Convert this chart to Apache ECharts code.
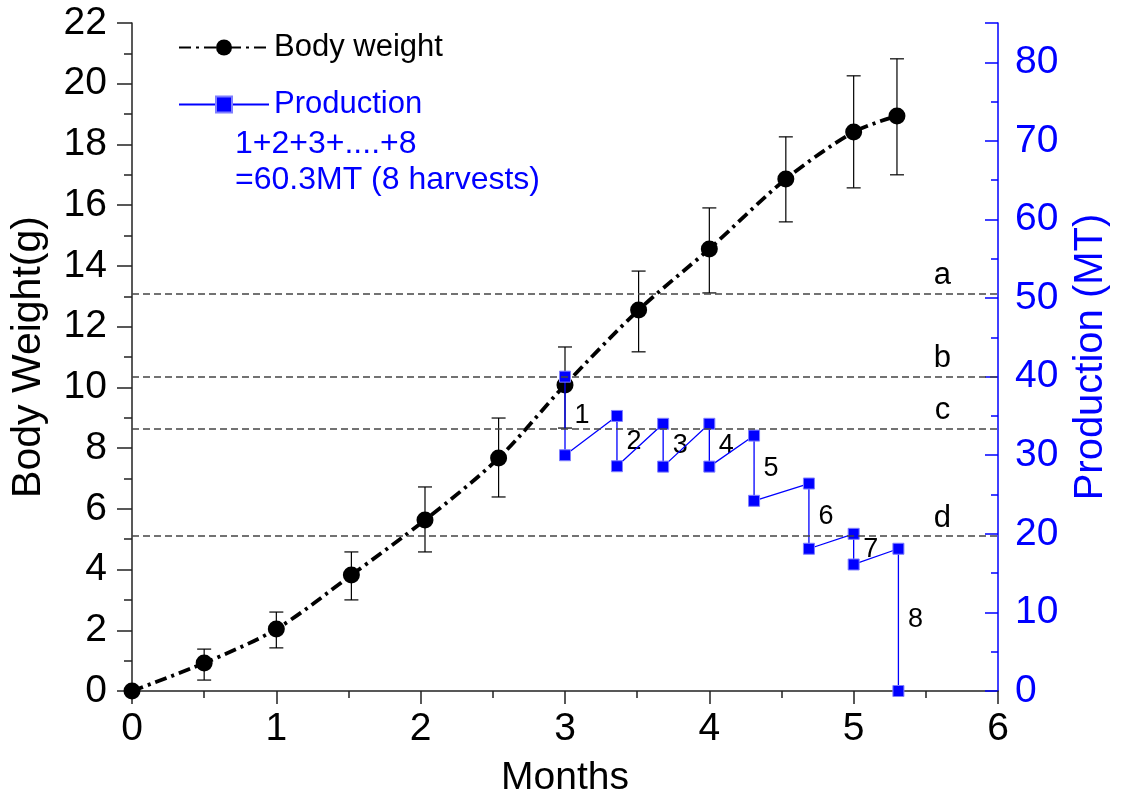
<!DOCTYPE html>
<html><head><meta charset="utf-8">
<script src="https://cdn.jsdelivr.net/npm/echarts@6/dist/echarts.min.js"></script>
<style>html,body{margin:0;padding:0;background:#fff}#c{width:1124px;height:800px}</style>
</head><body><div id="c"></div>
<script>
// ---- data ----
const months   = [0, 0.5, 1.0, 1.52, 2.03, 2.54, 3.0, 3.51, 4.0, 4.53, 5.0, 5.3];
const weight   = [0, 0.92, 2.04, 3.82, 5.63, 7.67, 10.08, 12.55, 14.56, 16.86, 18.41, 18.94];
const errLow   = [0, 0.36, 1.42, 3.0, 4.58, 6.39, 8.66, 11.17, 13.11, 15.45, 16.57, 17.0];
const errHigh  = [0, 1.38, 2.6, 4.58, 6.72, 8.99, 11.33, 13.83, 15.91, 18.25, 20.26, 20.82];
const harvestX      = [3.0, 3.36, 3.68, 4.0, 4.31, 4.69, 5.0, 5.31];
const harvestBefore = [40, 35, 34, 34, 32.5, 26.4, 20.0, 18.1];
const harvestAfter  = [30, 28.6, 28.55, 28.55, 24.2, 18.1, 16.1, 0];
const harvestNames  = ['1','2','3','4','5','6','7','8'];
const dashValues  = [50.6, 40.0, 33.4, 19.7];
const dashLetters = ['a','b','c','d'];
const xTicks = [0,1,2,3,4,5,6];

const FONT = '"Liberation Sans", Arial, sans-serif';
const BLUE = '#0000ff';
const LETTER_X = 5.615;

const prodPts = [];
harvestX.forEach((x,i)=>{ prodPts.push([x, harvestBefore[i]]); prodPts.push([x, harvestAfter[i]]); });

const chart = echarts.init(document.getElementById('c'));
chart.setOption({
  animation:false,
  backgroundColor:'#fff',
  textStyle:{fontFamily:FONT},
  grid:{left:132, right:126, top:23, bottom:109, containLabel:false, outerBoundsMode:'none'},
  title:{
    text:'1+2+3+....+8\n=60.3MT (8 harvests)', left:235, top:126, padding:0,
    textStyle:{color:BLUE, fontSize:32, fontWeight:'normal', lineHeight:36, fontFamily:FONT}
  },
  legend:{
    orient:'vertical', left:178, top:32, padding:0, itemWidth:90, itemHeight:20, itemGap:26,
    selectedMode:false,
    textStyle:{fontSize:31, fontFamily:FONT},
    data:[{name:'Body weight', textStyle:{color:'#000'}}, {name:'Production', textStyle:{color:BLUE}}]
  },
  xAxis:{
    type:'value', min:xTicks[0], max:xTicks[xTicks.length-1], interval:1,
    name:'Months', nameLocation:'middle', nameGap:68,
    nameTextStyle:{fontSize:39, color:'#000', fontFamily:FONT},
    axisLine:{onZero:false, lineStyle:{color:'#222', width:1.5}},
    axisTick:{length:13, lineStyle:{color:'#222', width:1.5}},
    minorTick:{show:true, splitNumber:2, length:7, lineStyle:{color:'#222', width:1.5}},
    axisLabel:{fontSize:39, color:'#000', margin:19, fontFamily:FONT},
    splitLine:{show:false}
  },
  yAxis:[{
    type:'value', position:'left', min:0, max:22, interval:2,
    name:'Body Weight(g)', nameLocation:'middle', nameGap:83, nameRotate:90,
    nameTextStyle:{fontSize:41, color:'#000', fontFamily:FONT},
    axisLine:{show:true, lineStyle:{color:'#222', width:1.5}},
    axisTick:{show:true, length:15, lineStyle:{color:'#222', width:1.5}},
    minorTick:{show:true, splitNumber:2, length:8, lineStyle:{color:'#222', width:1.5}},
    axisLabel:{fontSize:39, color:'#000', margin:25, fontFamily:FONT},
    splitLine:{show:false}
  },{
    type:'value', position:'right', min:0, max:85, interval:10,
    name:'Production (MT)', nameLocation:'middle', nameGap:73, nameRotate:90,
    nameTextStyle:{fontSize:40, color:BLUE, fontFamily:FONT},
    axisLine:{show:true, lineStyle:{color:BLUE, width:1.5}},
    axisTick:{show:true, inside:true, length:13, lineStyle:{color:BLUE, width:1.5}},
    minorTick:{show:true, splitNumber:2, length:7, lineStyle:{color:BLUE, width:1.5}},
    axisLabel:{fontSize:39, color:BLUE, margin:17, showMaxLabel:false, fontFamily:FONT},
    splitLine:{show:false}
  }],
  series:[{
    type:'custom', xAxisIndex:0, yAxisIndex:0, z:1, silent:true,
    data: months.map((m,i)=>[m, errLow[i], errHigh[i]]).filter(d=>d[2]>d[1]),
    renderItem(params, api){
      const x=api.value(0), lo=api.value(1), hi=api.value(2);
      const p1=api.coord([x,lo]), p2=api.coord([x,hi]); const w=7;
      const st={stroke:'#000', lineWidth:1.2};
      return {type:'group', children:[
        {type:'line', shape:{x1:p1[0],y1:p1[1],x2:p2[0],y2:p2[1]}, style:st},
        {type:'line', shape:{x1:p1[0]-w,y1:p1[1],x2:p1[0]+w,y2:p1[1]}, style:st},
        {type:'line', shape:{x1:p2[0]-w,y1:p2[1],x2:p2[0]+w,y2:p2[1]}, style:st}
      ]};
    }
  },{
    name:'Body weight', type:'line', xAxisIndex:0, yAxisIndex:0, z:3,
    data: months.map((m,i)=>[m, weight[i]]),
    smooth:0.3, symbol:'circle', symbolSize:17,
    itemStyle:{color:'#000'},
    lineStyle:{color:'#000', width:3.8, type:[12,5,3,5]}
  },{
    name:'Production', type:'line', xAxisIndex:0, yAxisIndex:1, z:4,
    data: prodPts, symbol:'rect', symbolSize:11,
    itemStyle:{color:BLUE, borderColor:'#7f7fff', borderWidth:1},
    lineStyle:{color:BLUE, width:1.3}
  },{
    type:'scatter', xAxisIndex:0, yAxisIndex:1, symbolSize:1, silent:true,
    itemStyle:{color:'rgba(0,0,0,0)', opacity:1},
    data: harvestX.map((x,i)=>({value:[x, (harvestBefore[i]+harvestAfter[i])/2], label:{formatter:harvestNames[i]}})),
    label:{show:true, position:'right', distance:9, fontSize:27, color:'#000', opacity:1, fontFamily:FONT}
  },{
    type:'scatter', xAxisIndex:0, yAxisIndex:1, symbolSize:1, silent:true,
    itemStyle:{color:'rgba(0,0,0,0)', opacity:1},
    data: dashValues.map((v,i)=>({value:[LETTER_X, v], label:{formatter:dashLetters[i]}})),
    label:{show:true, position:'top', distance:2, fontSize:31, color:'#000', opacity:1, fontFamily:FONT},
    markLine:{
      silent:true, symbol:['none','none'], label:{show:false},
      lineStyle:{color:'#444', width:1.5, type:[7,4]},
      data: dashValues.map(v=>({yAxis:v}))
    }
  }]
});
</script>
</body></html>
